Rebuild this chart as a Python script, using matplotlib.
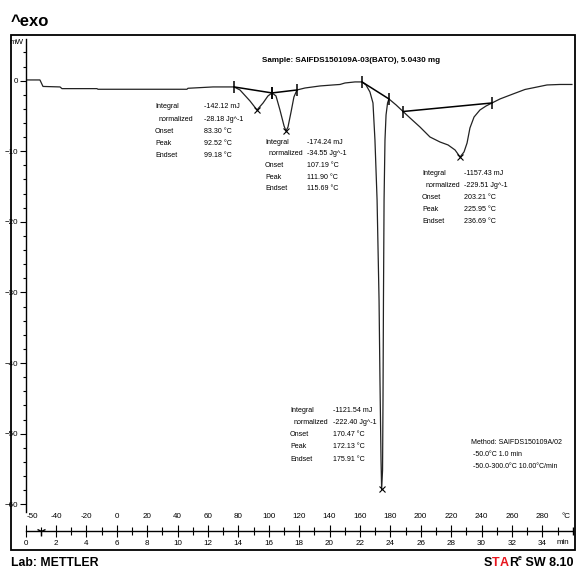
import matplotlib
matplotlib.use('Agg')
import matplotlib.pyplot as plt
from matplotlib.patches import Rectangle

FONT = ['Liberation Sans Narrow', 'Liberation Sans', 'DejaVu Sans']
plt.rcParams['font.family'] = FONT

# DSC curve, time in min / heat flow in mW
time_min = [0.0, 0.95, 1.15, 2.27, 2.40, 4.70, 4.77, 10.62, 10.69, 12.34, 13.72,
            14.11, 14.77, 15.23, 15.63, 15.95, 16.22, 16.48, 16.74, 17.01, 17.14,
            17.27, 17.47, 17.66, 17.86, 18.39, 19.38, 20.23, 20.69, 21.02, 21.68,
            22.14, 22.40, 22.66, 22.86, 22.99, 23.13, 23.26, 23.32, 23.39, 23.43,
            23.49, 23.52, 23.55, 23.59, 23.65, 23.72, 23.82, 23.91, 24.38, 24.84,
            25.30, 25.95, 26.61, 27.27, 27.80, 28.26, 28.59, 28.85, 29.05, 29.24,
            29.51, 29.90, 30.30, 30.69, 31.22, 32.07, 32.86, 33.52, 34.31, 35.16, 35.95]
heat_flow = [0.10, 0.10, -0.82, -0.89, -1.13, -1.13, -1.22, -1.22, -1.08, -0.89, -0.89,
             -1.32, -2.88, -4.15, -3.16, -2.17, -1.74, -2.17, -4.15, -6.42, -7.13,
             -6.56, -4.44, -2.31, -1.32, -1.04, -0.75, -0.61, -0.54, -0.33, -0.18,
             -0.18, -0.61, -1.60, -3.16, -8.41, -16.9, -31.1, -42.4, -53.8, -57.9,
             -55.2, -45.3, -31.1, -16.9, -8.41, -4.86, -3.16, -2.59, -3.44, -4.37,
             -5.29, -6.56, -7.98, -8.69, -9.11, -9.82, -10.81, -10.10, -8.83, -6.70,
             -5.15, -4.15, -3.59, -3.16, -2.59, -1.89, -1.25, -0.96, -0.61, -0.54, -0.54]

# integration limits (start, end) of each peak
limit_t = [(13.72, 16.22), (16.22, 17.86), (22.14, 23.91), (24.84, 30.69)]
limit_mw = [(-0.89, -1.74), (-1.74, -1.32), (-0.18, -2.59), (-4.37, -3.16)]

# evaluation results
integrals = ['-142.12', '-174.24', '-1121.54', '-1157.43']
normalized = ['-28.18', '-34.55', '-222.40', '-229.51']
onsets = ['83.30', '107.19', '170.47', '203.21']
peak_temps = ['92.52', '111.90', '172.13', '225.95']
endsets = ['99.18', '115.69', '175.91', '236.69']

time_ticks = list(range(0, 36, 2))
temp_labels = ['-50'] + [str(-50 + 10 * (t - 1)) for t in time_ticks[1:]]

W, H = 576, 570
fig = plt.figure(figsize=(W / 100, H / 100), dpi=100)


def fx(x):
    return x / W


def fy(y):
    return 1 - y / H


# outer frame
fig.patches.append(Rectangle((fx(11), fy(550)), fx(575) - fx(11), fy(35) - fy(550),
                             transform=fig.transFigure, fill=False, lw=1.3, ec='black'))

left, right = 25.5, 572.7
ax = fig.add_axes([fx(left), fy(512), fx(right) - fx(left), fy(39) - fy(512)])
ax.set_xlim(0, 36)
ax.set_ylim(-61.1, 5.9)
for s in ['top', 'right', 'bottom']:
    ax.spines[s].set_visible(False)
ax.spines['left'].set_linewidth(1.0)
ax.set_xticks([])
ax.set_yticks(range(-60, 1, 10))
ax.set_yticks(range(-60, 5, 2), minor=True)
ax.tick_params(axis='y', which='major', length=4, width=0.8, pad=1, labelsize=5.8)
ax.tick_params(axis='y', which='minor', length=2.5, width=0.8)
ax.patch.set_alpha(0)

ax.plot(time_min, heat_flow, color='#222222', lw=0.9)
for (t0, t1), (m0, m1) in zip(limit_t, limit_mw):
    ax.plot([t0, t1], [m0, m1], color='black', lw=1.1)
    ax.plot([t0, t1], [m0, m1], ls='none', marker='|', ms=9, mew=1.1, color='black')

# peak minima within each integration range
for t0, t1 in limit_t:
    seg = [(h, t) for t, h in zip(time_min, heat_flow) if t0 <= t <= t1]
    h, t = min(seg)
    ax.plot(t, h, marker='x', ms=4, mew=0.8, color='black')

# x axis (time and program temperature)
ax2 = fig.add_axes([fx(left), fy(530.7), fx(right) - fx(left), 0.0001])
ax2.set_xlim(0, 36)
ax2.set_ylim(0, 1)
for s in ['top', 'right', 'left']:
    ax2.spines[s].set_visible(False)
ax2.spines['bottom'].set_linewidth(1.0)
ax2.set_yticks([])
ax2.set_xticks(time_ticks)
ax2.set_xticks(range(1, 36, 2), minor=True)
ax2.tick_params(axis='x', which='major', direction='inout', length=9, width=0.8,
                pad=2.5, labelsize=5.8)
ax2.tick_params(axis='x', which='minor', direction='inout', length=6, width=0.8)
ax2.patch.set_alpha(0)
ax2.plot(1.0, 0, marker='1', ms=7, mew=1.0, color='black', clip_on=False)
ax2.plot(36, 0, marker='|', ms=6, mew=1.0, color='black', clip_on=False)

ax3 = ax2.twiny()
ax3.set_xlim(0, 36)
for s in ['top', 'right', 'left', 'bottom']:
    ax3.spines[s].set_visible(False)
ax3.set_xticks([0.45] + time_ticks[1:])
ax3.set_xticklabels(temp_labels)
ax3.tick_params(axis='x', which='major', length=0, pad=8, labelsize=5.8)

fig.text(fx(566), fy(516), '°C', fontsize=5.8, ha='center', va='center')
fig.text(fx(563), fy(543), 'min', fontsize=5.8, ha='center', va='center')
fig.text(fx(17), fy(43), 'mW', fontsize=5.8, ha='center', va='center')

fig.text(fx(11), fy(21), '^exo', fontsize=12, fontweight='bold', va='center')
fig.text(fx(11), fy(563), 'Lab: METTLER', fontsize=8.8, fontweight='bold', va='center')
fig.text(fx(262), fy(60), 'Sample: SAIFDS150109A-03(BATO), 5.0430 mg',
         fontsize=5.8, fontweight='bold', va='center')

# STARe SW 8.10 logo, laid out right to left
fig.canvas.draw()
rend = fig.canvas.get_renderer()
xr = 573
t = fig.text(fx(xr), fy(563), ' SW 8.10', fontsize=9, fontweight='bold', ha='right', va='center')
xr -= t.get_window_extent(rend).width
t = fig.text(fx(xr), fy(559), 'e', fontsize=5, fontweight='bold', ha='right', va='center')
xr -= t.get_window_extent(rend).width
for ch, col in [('R', 'black'), ('A', '#e8141c'), ('T', '#e8141c'), ('S', 'black')]:
    t = fig.text(fx(xr), fy(563), ch, fontsize=9, fontweight='bold', color=col,
                 ha='right', va='center')
    xr -= t.get_window_extent(rend).width

# result blocks, one per peak
blocks = [(155, 204, 107, 12.2), (265, 307, 142, 11.7), (290, 333, 410, 12.3), (422, 464, 173, 12.1)]
row_names = ['Integral', 'normalized', 'Onset', 'Peak', 'Endset']
row_indent = [0, 4, 0, 0, 0]
for i, (lx, vx, y0, dy) in enumerate(blocks):
    vals = [integrals[i] + ' mJ', normalized[i] + ' Jg^-1', onsets[i] + ' °C',
            peak_temps[i] + ' °C', endsets[i] + ' °C']
    for k, (name, v) in enumerate(zip(row_names, vals)):
        fig.text(fx(lx + row_indent[k]), fy(y0 + k * dy), name, fontsize=5.1, va='center')
        fig.text(fx(vx), fy(y0 + k * dy), v, fontsize=5.1, va='center')

method = ['Method: SAIFDS150109A/02', ' -50.0°C 1.0 min', ' -50.0-300.0°C 10.00°C/min']
for k, line in enumerate(method):
    fig.text(fx(471), fy(443 + k * 11.5), line, fontsize=5.0, va='center')

fig.savefig('out.png', dpi=100)
